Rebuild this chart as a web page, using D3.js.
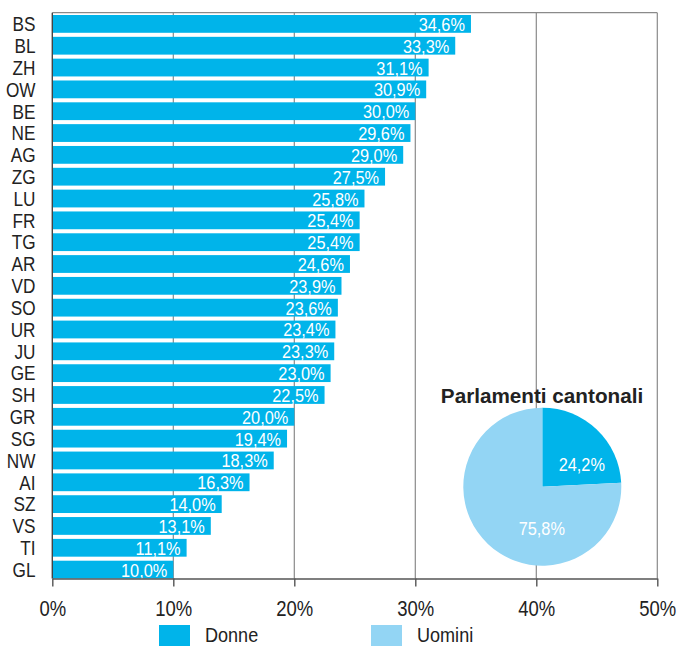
<!DOCTYPE html>
<html><head><meta charset="utf-8">
<script src="https://cdn.jsdelivr.net/npm/d3@7"></script>
<style>body{margin:0;background:#fff}svg{display:block}</style>
</head><body>
<svg id="c" width="679" height="646"></svg>
<script>
const cantons = ["BS","BL","ZH","OW","BE","NE","AG","ZG","LU","FR","TG","AR","VD","SO","UR","JU","GE","SH","GR","SG","NW","AI","SZ","VS","TI","GL"];
const women = [34.6,33.3,31.1,30.9,30.0,29.6,29.0,27.5,25.8,25.4,25.4,24.6,23.9,23.6,23.4,23.3,23.0,22.5,20.0,19.4,18.3,16.3,14.0,13.1,11.1,10.0];
const xTicks = [0,10,20,30,40,50];
const pieLabels = ["Donne","Uomini"];
const pieValues = [24.2,75.8];
const pieTitle = "Parlamenti cantonali";

const font = "'Liberation Sans',Arial,sans-serif";
const SX = 0.86;
const blue = "#00b4ea", light = "#93d5f4", grid = "#8a8a8a";
const svg = d3.select("#c");
const L = 52.3, R = 657.3, T = 12.7, B = 578.5;
const x = d3.scaleLinear().domain([0,50]).range([L,R]);
const y = d3.scaleBand().domain(cantons).range([15,578.5]).paddingInner(0.185).paddingOuter(0);
const fmt = v => d3.format(".1f")(v).replace(".",",") + "%";
const place = (fx, fy) => (d,i) => `translate(${fx(d,i)},${fy(d,i)}) scale(${SX},1)`;

// grid
svg.append("g").selectAll("line").data(xTicks.slice(1)).join("line")
  .attr("x1",d=>x(d)).attr("x2",d=>x(d)).attr("y1",T).attr("y2",B)
  .attr("stroke",grid).attr("stroke-width",1.2);
svg.append("line").attr("x1",L).attr("x2",R).attr("y1",T).attr("y2",T).attr("stroke",grid).attr("stroke-width",1.2);

// bars
const rows = cantons.map((c,i)=>({c, v:women[i]}));
svg.append("g").selectAll("rect").data(rows).join("rect")
  .attr("x",L).attr("y",d=>y(d.c)).attr("width",d=>x(d.v)-L).attr("height",y.bandwidth())
  .attr("fill",blue);
svg.append("g").selectAll("text").data(rows).join("text")
  .attr("transform",place(d=>x(d.v)-6, d=>y(d.c)+y.bandwidth()/2+7))
  .attr("text-anchor","end").attr("fill","#fff").attr("font-family",font).attr("font-size",19)
  .text(d=>fmt(d.v));

// category labels
svg.append("g").selectAll("text").data(rows).join("text")
  .attr("transform",place(()=>35.5, d=>y(d.c)+y.bandwidth()/2+7.3))
  .attr("text-anchor","end").attr("fill","#222").attr("font-family",font).attr("font-size",20)
  .text(d=>d.c);

// axes lines
svg.append("line").attr("x1",L).attr("x2",L).attr("y1",T).attr("y2",B).attr("stroke","#444").attr("stroke-width",1.4);
const xAxis = svg.append("g").attr("transform",`translate(0,${B})`)
  .call(d3.axisBottom(x).tickValues(xTicks).tickSize(8).tickSizeOuter(0).tickFormat(d=>d+"%"));
xAxis.select(".domain").attr("stroke","#555").attr("stroke-width",1.4);
xAxis.selectAll(".tick line").attr("stroke","#555").attr("stroke-width",1.4);
xAxis.selectAll(".tick text").attr("font-family",font).attr("font-size",21.5).attr("fill","#222")
  .attr("dy",0).attr("y",0).attr("transform",`translate(0,37) scale(${SX},1)`);

// pie
const cx = 542.3, cy = 486.7, r = 79;
const pie = d3.pie().sort(null)(pieValues);
const arc = d3.arc().innerRadius(0).outerRadius(r);
const pg = svg.append("g").attr("transform",`translate(${cx},${cy})`);
pg.selectAll("path").data(pie).join("path").attr("d",arc).attr("fill",(d,i)=>i===0?blue:light);
const labelPos = [[39.5,-23],[-0.5,41.5]];
pg.selectAll("text").data(pie).join("text")
  .attr("transform",place((d,i)=>labelPos[i][0], (d,i)=>labelPos[i][1]+7))
  .attr("text-anchor","middle").attr("fill","#fff").attr("font-family",font).attr("font-size",19)
  .text(d=>fmt(d.data));
svg.append("text").attr("x",542).attr("y",403.3).attr("text-anchor","middle")
  .attr("font-family",font).attr("font-weight","bold").attr("font-size",20.7).attr("fill","#222")
  .text(pieTitle);

// legend
const legX = [159,371];
const lg = svg.append("g").selectAll("g").data(pieLabels).join("g").attr("transform",(d,i)=>`translate(${legX[i]},625)`);
lg.append("rect").attr("width",31).attr("height",21).attr("fill",(d,i)=>i===0?blue:light);
lg.append("text").attr("transform",`translate(46,16.5) scale(${SX},1)`).attr("font-family",font).attr("font-size",21).attr("fill","#222").text(d=>d);
</script>
</body></html>
